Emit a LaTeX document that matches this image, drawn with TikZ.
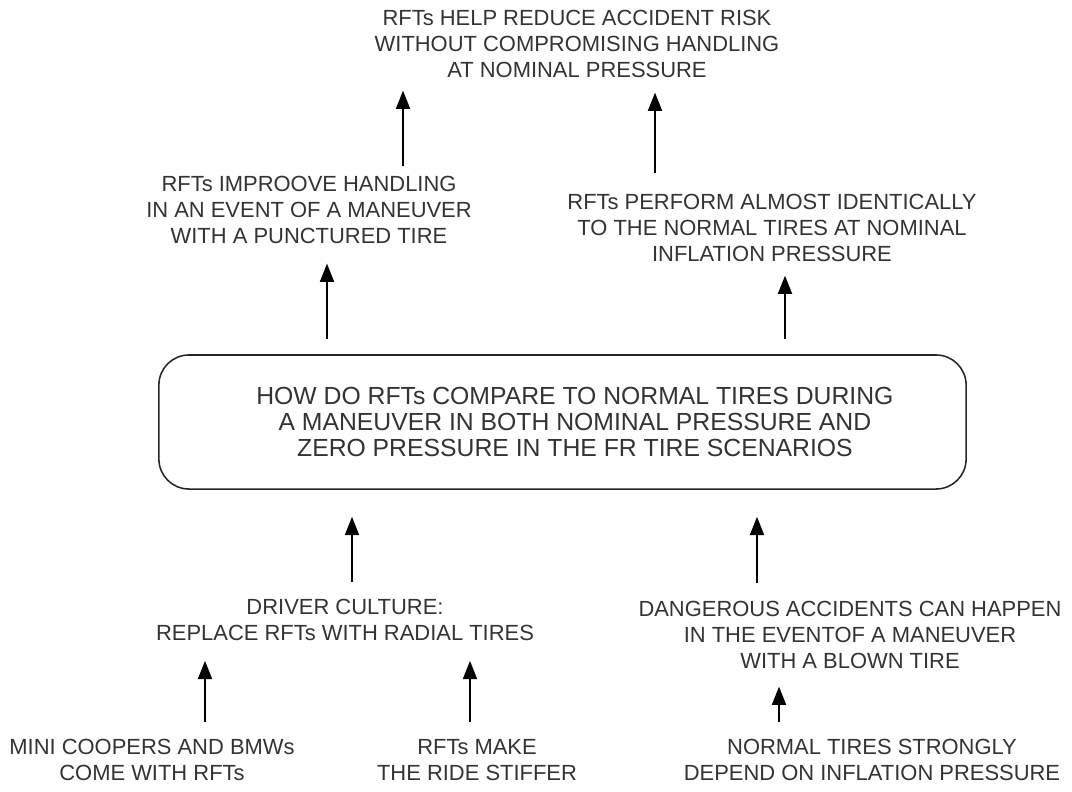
\documentclass[tikz,border=0pt]{standalone}
\usepackage{fontspec}
\setmainfont{Liberation Sans}
\usetikzlibrary{arrows.meta}
\definecolor{inkgrey}{HTML}{333333}
\tikzset{
  claim/.style={font=\fontsize{15.6}{18.2}\selectfont, text=inkgrey, align=center, inner sep=0pt},
  frame/.style={draw=black!85, line width=1.1pt, rounded corners=0.75cm, minimum width=20.175cm, minimum height=3.35cm, inner sep=0pt},
  question/.style={font=\fontsize{17.6}{18.3}\selectfont, text=inkgrey, align=center, inner sep=0pt},
  support/.style={-{Triangle[width=10pt,length=13pt]}, line width=1.2pt, draw=black},
}

\begin{document}
\begin{tikzpicture}[x=0.025cm, y=-0.025cm]
\useasboundingbox (0,0) rectangle (1072,791);
\node[claim] (safety) at (577,44) {RFTs HELP REDUCE ACCIDENT RISK\\WITHOUT COMPROMISING HANDLING\\AT NOMINAL PRESSURE};
\node[claim] (handling) at (309,210) {RFTs IMPROOVE HANDLING\\IN AN EVENT OF A MANEUVER\\WITH A PUNCTURED TIRE};
\node[claim] (identical) at (772,228) {RFTs PERFORM ALMOST IDENTICALLY\\TO THE NORMAL TIRES AT NOMINAL\\INFLATION PRESSURE};
\node[frame] (compare) at (562.5,422) {};
\node[question] (comparetext) at ([xshift=0.31cm]compare.center) {HOW DO RFTs COMPARE TO NORMAL TIRES DURING\\A MANEUVER IN BOTH NOMINAL PRESSURE AND\\ZERO PRESSURE IN THE FR TIRE SCENARIOS};
\node[claim] (culture) at (345,620) {DRIVER CULTURE:\\REPLACE RFTs WITH RADIAL TIRES};
\node[claim] (danger) at (850,635) {DANGEROUS ACCIDENTS CAN HAPPEN\\IN THE EVENTOF A MANEUVER\\WITH A BLOWN TIRE};
\node[claim] (mini) at (152,760) {MINI COOPERS AND BMWs\\COME WITH RFTs};
\node[claim] (stiff) at (477,760) {RFTs MAKE\\THE RIDE STIFFER};
\node[claim] (depend) at (872,760) {NORMAL TIRES STRONGLY\\DEPEND ON INFLATION PRESSURE};
\draw[support, shorten <=0.425cm, shorten >=0.5cm] (mini.north -| 205,0) -- (culture.south -| 205,0);
\draw[support, shorten <=0.425cm, shorten >=0.5cm] (stiff.north -| 470,0) -- (culture.south -| 470,0);
\draw[support, shorten <=0.425cm, shorten >=0.45cm] (depend.north -| 779,0) -- (danger.south -| 779,0);
\draw[support, shorten <=0.425cm, shorten >=0.675cm] (culture.north -| 352,0) -- (compare.south -| 352,0);
\draw[support, shorten <=0.45cm, shorten >=0.675cm] (danger.north -| 757,0) -- (compare.south -| 757,0);
\draw[support, shorten <=0.375cm, shorten >=0.5cm] (compare.north -| 327,0) -- (handling.south -| 327,0);
\draw[support, shorten <=0.375cm, shorten >=0.35cm] (compare.north -| 785,0) -- (identical.south -| 785,0);
\draw[support, shorten <=0.25cm, shorten >=0.325cm] (handling.north -| 403,0) -- (safety.south -| 403,0);
\draw[support, shorten <=0.525cm, shorten >=0.375cm] (identical.north -| 655,0) -- (safety.south -| 655,0);
\end{tikzpicture}
\end{document}
